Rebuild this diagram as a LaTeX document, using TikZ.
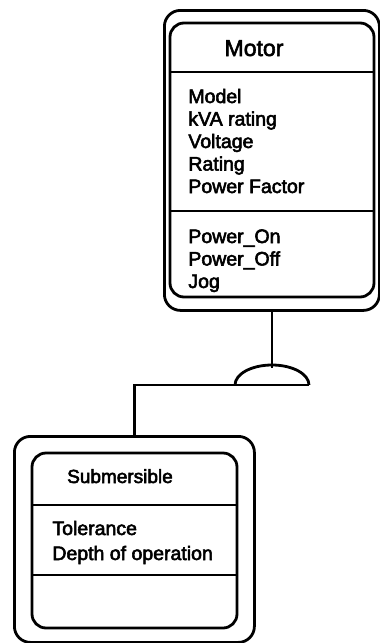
\documentclass[tikz,border=0pt]{standalone}
\usepackage{fontspec}
\setmainfont{Liberation Sans}
\newcommand{\heavytext}{\special{pdf:literal direct 2 Tr 0.55 w}}
\begin{document}
\begin{tikzpicture}[x=1pt, y=-1pt, line width=2.8pt,
	every node/.style={inner sep=0pt, anchor=base west, font=\fontsize{19.5}{22}\selectfont\heavytext},
	outerbox/.style={draw, rounded corners=16pt, anchor=north west, minimum width=#1},
	classtitle/.style={anchor=base, font=\fontsize{23}{26}\selectfont\heavytext}]
	\useasboundingbox (0,0) rectangle (380,643);
	
	% 外框
	\node[outerbox=215pt, minimum height=300pt] (motor) at (163,9) {};
	\node[outerbox=240pt, minimum height=206pt] (sub) at (13,435) {};
	
	% 内框与分隔线 (Motor)
	\draw[rounded corners=14pt] (170,23) rectangle (374,297);
	\draw (170,72) -- (374,72);
	\draw (170,211) -- (374,211);
	
	% 内框与分隔线 (Submersible)
	\draw[rounded corners=14pt] (32,453) rectangle (237,628);
	\draw (32,505) -- (237,505);
	\draw (32,575) -- (237,575);
	
	% 类名
	\node[classtitle] (motorname) at (254,56) {Motor};
	\node[classtitle, font=\fontsize{19}{22}\selectfont\heavytext] (subname) at (120,483) {Submersible};
	
	% 属性与操作
	\foreach \t [count=\i] in {Model, kVA rating, Voltage, Rating, Power Factor}
		\node (attr\i) at (187, 80.5+22.5*\i) {\t};
	\foreach \t [count=\i] in {Power\_On, Power\_Off, Jog}
		\node (op\i) at (187, 220.5+22.5*\i) {\t};
	\node (tol) at (51,535) {Tolerance};
	\node (depth) at (51,560) {Depth of operation};
	
	% 继承符号
	\coordinate (gen) at (272,385);
	\coordinate (genr) at (309,385);
	\draw (gen) ++(-37,0) arc[start angle=180, end angle=360, x radius=37, y radius=20];
	\draw (motor.south -| gen) -- ++(0,56);
	\draw (sub.north) |- (genr);
\end{tikzpicture}
\end{document}
